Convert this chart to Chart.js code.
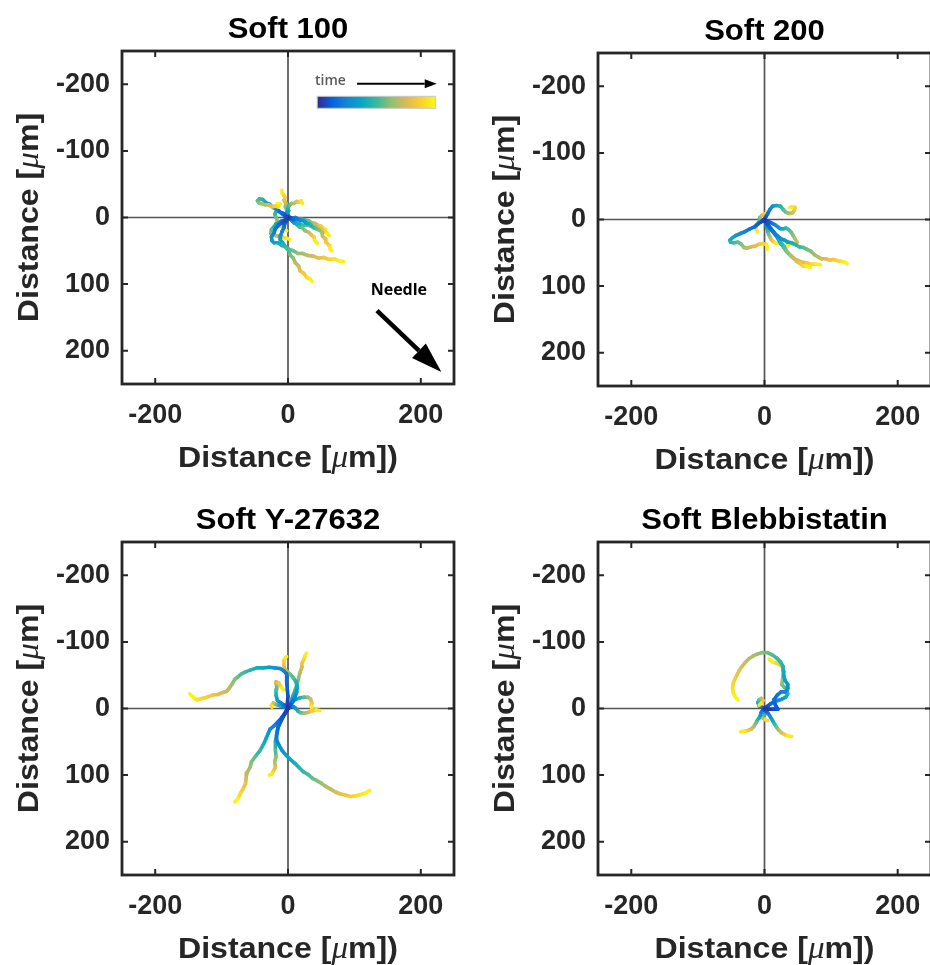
<!DOCTYPE html>
<html>
<head>
<meta charset="utf-8">
<script src="https://cdn.jsdelivr.net/npm/chart.js@4.4.0/dist/chart.umd.min.js"></script>
<style>
html, body { margin: 0; padding: 0; background: #fff; width: 930px; height: 965px; overflow: hidden; }
canvas { position: absolute; }
</style>
</head>
<body>
<canvas id="c1" width="465" height="474" style="left:0;top:0"></canvas>
<canvas id="c2" width="455" height="474" style="left:476px;top:2px"></canvas>
<canvas id="c3" width="465" height="474" style="left:0;top:491px"></canvas>
<canvas id="c4" width="455" height="474" style="left:476px;top:491px"></canvas>
<script>
const panelTitles = ['Soft 100', 'Soft 200', 'Soft Y-27632', 'Soft Blebbistatin'];
const xTicks = [-200, 0, 200];
const yTicks = [-200, -100, 0, 100, 200];
const axisMin = -250;
const axisMax = 250;

// tracks: lists of [x, y] in µm, first point is the cell start at the origin
const soft100 = [
  [[0,0],[-3,-2],[-7,-6],[-12,-8],[-17,-13],[-22,-15],[-28,-20],[-33,-22],[-38,-27],[-43,-28],[-46,-25],[-44,-22],[-41,-21],[-35,-19],[-29,-19],[-24,-16],[-19,-17],[-15,-16],[-12,-20],[-16,-21]],
  [[0,0],[-4,3],[-9,8],[-14,11],[-19,17],[-21,23],[-25,29],[-24,35],[-21,38],[-15,38],[-9,42],[-3,44],[2,48],[8,50],[15,54],[22,54],[30,57],[38,58],[46,61],[54,60],[62,63],[70,62],[77,65],[84,66]],
  [[0,0],[-2,4],[-5,10],[-6,15],[-9,21],[-11,27],[-12,33],[-8,38],[-3,45],[1,50],[3,56],[8,61],[11,68],[16,73],[18,80],[24,84],[28,90],[33,92],[36,96]],
  [[0,0],[4,1],[8,3],[13,2],[18,4],[23,5],[28,9],[33,10],[38,15],[43,17],[47,19],[51,22],[52,28],[56,32],[57,37],[62,42],[63,46],[66,50]],
  [[0,0],[2,2],[4,3],[6,5],[9,8],[13,10],[17,14],[21,15],[26,20],[31,22],[35,26],[39,29],[40,34],[44,39]],
  [[0,0],[1,1],[3,2],[5,3],[8,5],[12,8],[17,9],[22,12],[28,11],[34,13],[40,12],[46,16],[51,17],[55,22],[59,23],[62,27]],
  [[0,0],[1,-2],[0,-4],[-1,-7],[1,-10],[0,-14],[2,-18],[5,-21],[9,-21],[13,-24],[17,-23],[20,-25],[22,-21]],
  [[0,0],[1,-1],[0,-2],[-1,-3],[-1,-5],[-2,-8],[-2,-12],[-4,-16],[-3,-21],[-6,-26],[-5,-31],[-8,-36],[-9,-41]],
  [[0,0],[-3,2],[-6,5],[-10,5],[-14,8],[-18,10],[-22,15],[-25,18],[-26,24],[-22,26],[-17,28],[-12,27],[-7,30],[-2,31],[3,33]],
  [[0,0],[3,0],[7,1],[11,0],[16,2],[21,2],[26,4],[31,5],[36,8],[41,9],[46,12],[50,13],[54,17],[57,18]],
  [[0,0],[-3,-3],[-7,-4],[-11,-7],[-14,-10],[-18,-9],[-20,-5],[-18,0],[-16,4],[-18,9],[-14,13],[-8,14],[-5,18],[-2,20]]
];

const soft200 = [
  [[0,0],[-4,3],[-9,6],[-15,11],[-22,14],[-29,18],[-36,21],[-43,24],[-49,28],[-52,31],[-51,34],[-46,35],[-40,34],[-35,37],[-31,42],[-26,43],[-20,41],[-14,40],[-8,37],[-3,36],[2,37],[4,40],[4,45]],
  [[0,0],[2,-4],[5,-9],[8,-15],[12,-20],[18,-21],[24,-20],[28,-15],[32,-11],[37,-9],[42,-10],[45,-14],[46,-18],[41,-19],[38,-18]],
  [[0,0],[1,3],[4,7],[7,11],[11,16],[15,21],[20,25],[25,29],[30,31],[35,34],[41,35],[47,38],[52,41],[58,42],[64,45],[70,48],[75,53],[80,56],[86,59],[92,59],[98,61],[104,60],[110,62],[116,63],[120,64],[124,66]],
  [[0,0],[2,3],[4,6],[7,10],[10,14],[14,19],[18,24],[22,29],[25,35],[30,41],[33,47],[38,53],[43,57],[48,63],[53,66],[58,70],[63,70],[69,72]],
  [[0,0],[3,4],[6,9],[9,14],[13,19],[17,24],[21,30],[24,36],[29,42],[33,48],[38,53],[43,58],[49,61],[56,64],[63,65],[70,67],[77,67],[84,68]],
  [[0,0],[4,2],[8,4],[12,6],[16,8],[20,11],[24,14],[28,14],[32,13],[36,15],[40,19],[43,24],[46,29],[49,34],[46,37],[41,36],[37,35],[35,37],[36,40]],
  [[0,0],[-1,1],[-3,2],[-5,3],[-7,4],[-9,5],[-11,7],[-13,9],[-13,12],[-12,15],[-11,18]],
  [[0,0],[1,3],[2,6],[3,10],[4,14],[5,18],[6,22],[8,26],[10,30],[13,33],[16,35],[19,36]],
  [[0,0],[-2,1],[-4,2],[-6,2],[-8,0],[-7,-3],[-4,-6],[-1,-8],[3,-10],[6,-12]]
];

const softY27632 = [
  [[0,0],[-1,-8],[0,-18],[-1,-28],[-2,-40],[-2,-52],[-7,-57],[-12,-60],[-20,-61],[-28,-62],[-37,-61],[-47,-61],[-56,-58],[-64,-55],[-70,-52],[-76,-47],[-80,-44],[-84,-37],[-88,-31],[-92,-26],[-98,-24],[-106,-21],[-114,-20],[-122,-17],[-130,-15],[-137,-13],[-142,-16],[-148,-22]],
  [[0,0],[3,-5],[7,-10],[10,-16],[13,-24],[14,-32],[12,-40],[8,-46],[3,-52],[-2,-56],[-5,-60],[-6,-66],[-6,-72],[-4,-76],[-2,-78]],
  [[0,0],[1,-1],[2,-2],[2,-4],[4,-8],[6,-14],[8,-20],[11,-28],[14,-38],[16,-46],[18,-54],[21,-62],[21,-68],[24,-74],[26,-80],[28,-83]],
  [[0,0],[4,-2],[8,-3],[12,0],[15,4],[18,6],[24,7],[30,6],[36,4],[42,2],[48,3]],
  [[0,0],[3,-5],[6,-10],[12,-14],[18,-16],[24,-17],[30,-17],[34,-14],[36,-8],[35,-3],[36,1]],
  [[0,0],[-3,5],[-7,12],[-11,20],[-15,28],[-17,38],[-17,48],[-13,56],[-9,63],[-3,70],[3,76],[10,82],[17,89],[23,95],[30,99],[37,105],[43,108],[50,112],[57,117],[64,121],[71,125],[78,128],[86,130],[94,132],[102,131],[110,129],[117,127],[123,123]],
  [[0,0],[-4,6],[-9,13],[-15,20],[-21,26],[-27,31],[-30,38],[-33,45],[-37,54],[-42,63],[-49,72],[-55,80],[-57,88],[-62,97],[-63,105],[-64,113],[-68,121],[-72,128],[-75,135],[-80,140]],
  [[0,0],[-5,8],[-10,16],[-14,26],[-17,38],[-19,50],[-19,62],[-18,72],[-20,80],[-19,88],[-22,94],[-24,98],[-28,100]],
  [[0,0],[-4,-4],[-10,-8],[-16,-12],[-18,-20],[-18,-28],[-17,-36],[-18,-40],[-14,-38],[-10,-32],[-7,-28]],
  [[0,0],[-6,-2],[-12,-4],[-18,-6],[-22,-8],[-25,-5],[-24,-2]]
];

const softBlebbistatin = [
  [[0,0],[7,1],[14,1],[20,1],[16,-6],[14,-13],[19,-20],[25,-25],[31,-25],[35,-30],[35,-36],[31,-42],[29,-49],[29,-56],[28,-63],[24,-70],[18,-76],[11,-81],[4,-84],[-3,-84],[-10,-82],[-17,-79],[-23,-75],[-29,-69],[-34,-63],[-38,-57],[-41,-51],[-44,-45],[-47,-38],[-48,-31],[-47,-24],[-44,-18],[-40,-13]],
  [[0,0],[4,-3],[9,-7],[14,-10],[20,-12],[26,-14],[32,-17],[35,-22],[34,-28],[30,-32],[26,-36],[27,-44],[28,-52],[28,-60],[24,-66],[18,-68],[12,-70],[7,-74]],
  [[0,0],[-3,3],[-5,6],[-6,10],[-8,14],[-11,18],[-13,22],[-16,27],[-20,31],[-25,33],[-30,34],[-36,35]],
  [[0,0],[3,4],[6,8],[9,13],[12,18],[15,23],[18,28],[21,32],[25,36],[30,39],[35,41],[41,42]],
  [[0,0],[-4,-2],[-8,-4],[-10,-9],[-8,-13],[-5,-15],[-2,-12],[-5,-8],[-8,-5]],
  [[0,0],[2,5],[0,10],[-3,14],[1,17],[5,18]]
];

// parula-like colour stops (time runs dark blue -> yellow)
const parulaStops = ['#352a87', '#0363e1', '#1485d4', '#06a7c6', '#38b99e', '#92bf73', '#d9ba56', '#fcce2e', '#f9fb0e'];

function hexToRgb(h) {
  return [parseInt(h.slice(1, 3), 16), parseInt(h.slice(3, 5), 16), parseInt(h.slice(5, 7), 16)];
}

function parula(t) {
  t = Math.max(0, Math.min(1, t));
  const n = parulaStops.length - 1;
  const i = Math.min(n - 1, Math.floor(t * n));
  const f = t * n - i;
  const a = hexToRgb(parulaStops[i]);
  const b = hexToRgb(parulaStops[i + 1]);
  const c = a.map((v, k) => Math.round(v + (b[k] - v) * f));
  return `rgb(${c[0]},${c[1]},${c[2]})`;
}

const sansFont = '"Liberation Sans", Arial, sans-serif';
const textColor = '#262626';

// draws a row of text pieces centred on (cx, cy), slightly stretched like the original
function drawPieces(ctx, pieces, cx, cy, rot, color) {
  ctx.save();
  ctx.translate(cx, cy);
  ctx.rotate(rot);
  ctx.scale(1.07, 1);
  let w = 0;
  pieces.forEach(p => { ctx.font = p.font; w += ctx.measureText(p.text).width; });
  let xx = -w / 2;
  ctx.textAlign = 'left';
  ctx.textBaseline = 'alphabetic';
  ctx.fillStyle = color;
  pieces.forEach(p => {
    ctx.font = p.font;
    ctx.fillText(p.text, xx, 0);
    xx += ctx.measureText(p.text).width;
  });
  ctx.restore();
}

function drawArrow(ctx, x1, y1, x2, y2, lw, headLen, headHalf) {
  const ang = Math.atan2(y2 - y1, x2 - x1);
  const bx = x2 - headLen * Math.cos(ang);
  const by = y2 - headLen * Math.sin(ang);
  ctx.strokeStyle = '#000';
  ctx.fillStyle = '#000';
  ctx.lineWidth = lw;
  ctx.beginPath();
  ctx.moveTo(x1, y1);
  ctx.lineTo(bx, by);
  ctx.stroke();
  ctx.beginPath();
  ctx.moveTo(x2, y2);
  ctx.lineTo(bx + headHalf * Math.sin(ang), by - headHalf * Math.cos(ang));
  ctx.lineTo(bx - headHalf * Math.sin(ang), by + headHalf * Math.cos(ang));
  ctx.closePath();
  ctx.fill();
}

// time colour bar and needle direction, placed in data units of the first panel
function drawInset(chart) {
  const { ctx, scales: { x, y } } = chart;
  ctx.save();
  const bx1 = x.getPixelForValue(44), bx2 = x.getPixelForValue(222);
  const by1 = y.getPixelForValue(-182), by2 = y.getPixelForValue(-164);
  const grad = ctx.createLinearGradient(bx1, 0, bx2, 0);
  parulaStops.forEach((c, i) => grad.addColorStop(i / (parulaStops.length - 1), c));
  ctx.fillStyle = grad;
  ctx.fillRect(bx1, by1, bx2 - bx1, by2 - by1);
  ctx.strokeStyle = '#c8c8c8';
  ctx.lineWidth = 1;
  ctx.strokeRect(bx1, by1, bx2 - bx1, by2 - by1);

  ctx.font = '600 14px "Open Sans", sans-serif';
  ctx.fillStyle = '#5a5a5a';
  ctx.textAlign = 'center';
  ctx.textBaseline = 'middle';
  ctx.fillText('time', x.getPixelForValue(64), y.getPixelForValue(-205));
  drawArrow(ctx, x.getPixelForValue(104), y.getPixelForValue(-201), x.getPixelForValue(224), y.getPixelForValue(-201), 2, 12, 4.5);

  ctx.font = 'bold 16px "Open Sans", sans-serif';
  ctx.fillStyle = '#000';
  ctx.fillText('Needle', x.getPixelForValue(167), y.getPixelForValue(110));
  drawArrow(ctx, x.getPixelForValue(134), y.getPixelForValue(140), x.getPixelForValue(231), y.getPixelForValue(232), 4.5, 31, 10);
  ctx.restore();
}

const framePlugin = {
  id: 'frame',
  beforeDatasetsDraw(chart) {
    const { ctx, chartArea: a, scales: { x, y } } = chart;
    const x0 = x.getPixelForValue(0), y0 = y.getPixelForValue(0);
    ctx.save();
    ctx.strokeStyle = '#555';
    ctx.lineWidth = 1.7;
    ctx.beginPath();
    ctx.moveTo(x0, a.top); ctx.lineTo(x0, a.bottom);
    ctx.moveTo(a.left, y0); ctx.lineTo(a.right, y0);
    ctx.stroke();
    ctx.restore();
  },
  afterDraw(chart, args, opts) {
    const { ctx, chartArea: a, scales: { x, y } } = chart;
    ctx.save();
    ctx.strokeStyle = textColor;
    ctx.lineWidth = 2.8;
    ctx.strokeRect(a.left, a.top, a.right - a.left, a.bottom - a.top);
    ctx.lineWidth = 2;
    ctx.beginPath();
    const tl = 6;
    xTicks.forEach(v => {
      const px = x.getPixelForValue(v);
      ctx.moveTo(px, a.bottom); ctx.lineTo(px, a.bottom - tl);
      ctx.moveTo(px, a.top); ctx.lineTo(px, a.top + tl);
    });
    yTicks.forEach(v => {
      const py = y.getPixelForValue(v);
      ctx.moveTo(a.left, py); ctx.lineTo(a.left + tl, py);
      ctx.moveTo(a.right, py); ctx.lineTo(a.right - tl, py);
    });
    ctx.stroke();
    ctx.restore();

    const cx = (a.left + a.right) / 2;
    const cy = (a.top + a.bottom) / 2;
    drawPieces(ctx, [{ text: opts.title, font: `bold 29px ${sansFont}` }], cx, a.top - 13, 0, '#000');
    const bold = `bold 30px ${sansFont}`;
    const mu = 'italic 31px "Liberation Serif", serif';
    drawPieces(ctx, [{ text: 'Distance [', font: bold }, { text: 'μ', font: mu }, { text: 'm])', font: bold }], cx, a.bottom + 83, 0, textColor);
    drawPieces(ctx, [{ text: 'Distance [', font: bold }, { text: 'μ', font: mu }, { text: 'm]', font: bold }], a.left - 84, cy, -Math.PI / 2, textColor);

    if (opts.inset) drawInset(chart);
  }
};

function makeChart(id, title, tracks, padRight, inset) {
  const tickFont = { family: sansFont, size: 27, weight: 'bold' };
  return new Chart(document.getElementById(id), {
    type: 'scatter',
    data: {
      datasets: tracks.map(tr => ({
        data: tr.map(p => ({ x: p[0], y: p[1] })),
        showLine: true,
        pointRadius: 0,
        pointHoverRadius: 0,
        borderWidth: 3.6,
        tension: 0,
        borderCapStyle: 'round',
        borderJoinStyle: 'round',
        segment: { borderColor: ctx => parula((ctx.p0DataIndex + 0.5) / (tr.length - 1)) }
      }))
    },
    options: {
      responsive: false,
      animation: false,
      events: [],
      layout: { padding: { top: 51, right: padRight, left: 0, bottom: 0 } },
      plugins: {
        legend: { display: false },
        tooltip: { enabled: false },
        frame: { title: title, inset: inset }
      },
      scales: {
        x: {
          type: 'linear', min: axisMin, max: axisMax,
          grid: { display: false, drawTicks: false },
          border: { display: false },
          afterBuildTicks: s => { s.ticks = xTicks.map(v => ({ value: v })); },
          afterFit: s => { s.height = 90; s.paddingLeft = 0; s.paddingRight = 0; },
          ticks: { font: tickFont, color: textColor, padding: 15, maxRotation: 0, autoSkip: false, callback: v => String(v) }
        },
        y: {
          type: 'linear', min: axisMin, max: axisMax, reverse: true,
          grid: { display: false, drawTicks: false },
          border: { display: false },
          afterBuildTicks: s => { s.ticks = yTicks.map(v => ({ value: v })); },
          afterFit: s => { s.width = 122; },
          ticks: { font: tickFont, color: textColor, padding: 12, autoSkip: false, callback: v => String(v) }
        }
      }
    },
    plugins: [framePlugin]
  });
}

makeChart('c1', panelTitles[0], soft100, 11, true);
makeChart('c2', panelTitles[1], soft200, 0, false);
makeChart('c3', panelTitles[2], softY27632, 11, false);
makeChart('c4', panelTitles[3], softBlebbistatin, 0, false);
</script>
</body>
</html>
